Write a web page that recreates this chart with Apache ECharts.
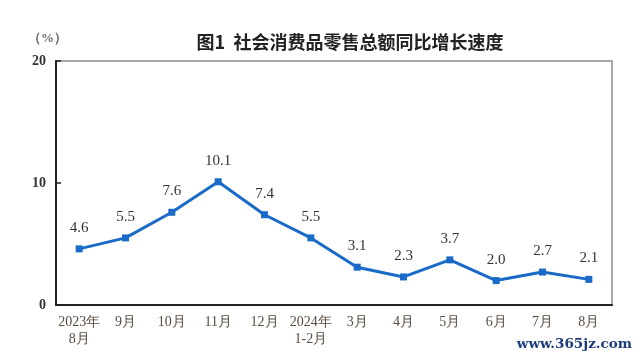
<!DOCTYPE html>
<html><head><meta charset="utf-8">
<script src="https://cdn.jsdelivr.net/npm/echarts@6/dist/echarts.min.js"></script>
<style>html,body{margin:0;padding:0;background:#fff}#c{width:640px;height:361px}</style>
</head><body><div id="c"></div>
<script>
const categories = ['2023年\n8月','9月','10月','11月','12月','2024年\n1-2月','3月','4月','5月','6月','7月','8月'];
const values = [4.6,5.5,7.6,10.1,7.4,5.5,3.1,2.3,3.7,2.0,2.7,2.1];
const yTicks = {min:0, max:20, interval:10};
const titleText = '图1  社会消费品零售总额同比增长速度';
const unitText = '（%）';
const watermark = 'www.365jz.com';

const chart = echarts.init(document.getElementById('c'), null, {renderer:'canvas'});
chart.setOption({
  backgroundColor:'#fff',
  animation:false,
  title:{text:titleText,left:345,textAlign:'center',top:28,textStyle:{fontFamily:'Noto Sans CJK SC',fontSize:18,fontWeight:'bold',color:'#222'}},
  graphic:[
    {type:'text',left:28,top:32,style:{text:unitText,font:'bold 13px "Liberation Serif"',fill:'#666'}},
    {type:'text',right:8,top:337,style:{text:watermark,font:'bold 13.5px "DejaVu Serif"',fill:'#1d3c7c'}}
  ],
  grid:{left:56,right:28,top:61,bottom:56,show:true,borderColor:'#8a8a8a',borderWidth:1.5},
  xAxis:{type:'category',data:categories,boundaryGap:true,
    axisLine:{lineStyle:{color:'#222',width:2}},
    axisTick:{inside:true,length:5,lineStyle:{color:'#222',width:1.5}},
    axisLabel:{margin:9,lineHeight:17,fontFamily:'Liberation Serif',fontSize:14,color:'#5a4b40',interval:0}},
  yAxis:{type:'value',min:yTicks.min,max:yTicks.max,interval:yTicks.interval,
    splitLine:{show:false},
    axisLine:{show:true,lineStyle:{color:'#222',width:2}},
    axisTick:{show:true,inside:true,length:5,lineStyle:{color:'#222',width:1.5}},
    axisLabel:{margin:10,fontFamily:'Liberation Serif',fontSize:14,fontWeight:'bold',color:'#333'}},
  series:[{type:'line',data:values,symbol:'rect',symbolSize:7,
    lineStyle:{color:'#1a6bc8',width:3},
    itemStyle:{color:'#1a6bc8'},
    label:{show:true,position:'top',distance:10,formatter:p=>p.value.toFixed(1),fontFamily:'Liberation Serif',fontSize:15,color:'#333'}}]
});
</script></body></html>
